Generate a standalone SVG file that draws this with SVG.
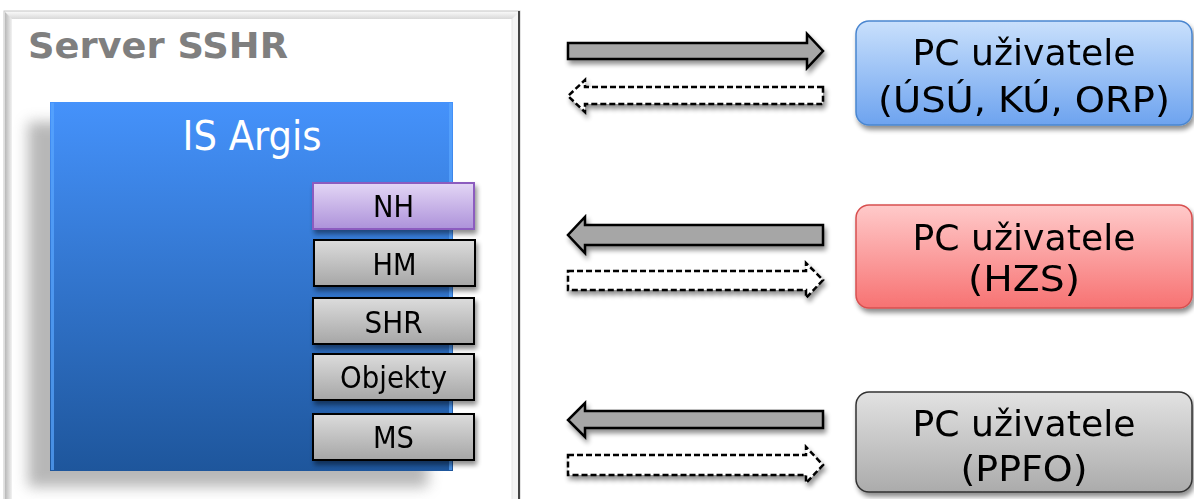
<svg xmlns="http://www.w3.org/2000/svg" width="1194" height="499" viewBox="0 0 1194 499">
<defs>
  <linearGradient id="gBlue" x1="0" y1="0" x2="0" y2="1">
    <stop offset="0" stop-color="#4592fb"/>
    <stop offset="1" stop-color="#1e569c"/>
  </linearGradient>
  <linearGradient id="gGray" x1="0" y1="0" x2="0" y2="1">
    <stop offset="0" stop-color="#dcdcdc"/>
    <stop offset="1" stop-color="#a6a6a6"/>
  </linearGradient>
  <linearGradient id="gPurple" x1="0" y1="0" x2="0" y2="1">
    <stop offset="0" stop-color="#e3d6f5"/>
    <stop offset="1" stop-color="#ad92da"/>
  </linearGradient>
  <linearGradient id="gPcBlue" x1="0" y1="0" x2="0" y2="1">
    <stop offset="0" stop-color="#c9e0fc"/>
    <stop offset="1" stop-color="#6da3ef"/>
  </linearGradient>
  <linearGradient id="gPcRed" x1="0" y1="0" x2="0" y2="1">
    <stop offset="0" stop-color="#ffcaca"/>
    <stop offset="1" stop-color="#f77272"/>
  </linearGradient>
  <linearGradient id="gPcGray" x1="0" y1="0" x2="0" y2="1">
    <stop offset="0" stop-color="#e2e2e2"/>
    <stop offset="1" stop-color="#ababab"/>
  </linearGradient>
  <linearGradient id="gFrameL" x1="0" y1="0" x2="1" y2="0">
    <stop offset="0" stop-color="#b8b8b8"/>
    <stop offset="1" stop-color="#f2f2f2"/>
  </linearGradient>
  <linearGradient id="gFrameT" x1="0" y1="0" x2="0" y2="1">
    <stop offset="0" stop-color="#f8f8f8"/>
    <stop offset="1" stop-color="#d8d8d8"/>
  </linearGradient>
  <filter id="fShadow" x="-20%" y="-20%" width="140%" height="160%">
    <feGaussianBlur in="SourceAlpha" stdDeviation="2.5"/>
    <feOffset dx="2" dy="4" result="b"/>
    <feComponentTransfer><feFuncA type="linear" slope="0.45"/></feComponentTransfer>
    <feMerge><feMergeNode/><feMergeNode in="SourceGraphic"/></feMerge>
  </filter>
  <filter id="fBig" x="-20%" y="-20%" width="140%" height="140%">
    <feGaussianBlur stdDeviation="7"/>
  </filter>
  <style>
    .lbl { font-family: "DejaVu Sans", Verdana, sans-serif; fill: #000; text-anchor: middle; }
    .mod { stroke: #000; stroke-width: 2; fill: url(#gGray); }
    .pc { stroke-width: 1.5; }
    .solid { fill: #a6a6a6; stroke: #000; stroke-width: 2.5; stroke-linejoin: miter; }
    .dash { fill: #fff; stroke: #000; stroke-width: 2.5; stroke-dasharray: 6 3; }
  </style>
</defs>
<rect width="1194" height="499" fill="#fff"/>

<g id="server">
  <rect x="4" y="11" width="516" height="500" fill="#f4f4f4" stroke="#c8c8c8" stroke-width="1"/>
  <rect x="5" y="12" width="7" height="490" fill="url(#gFrameL)"/>
  <polygon points="5,12 519,12 512,19 12,19" fill="url(#gFrameT)"/>
  <rect x="12" y="19" width="500" height="490" fill="#fff"/>
  <line x1="519" y1="11" x2="519" y2="499" stroke="#444" stroke-width="2"/>
  <line x1="512" y1="19" x2="512" y2="499" stroke="#e6e6e6" stroke-width="1"/>
  <text x="28" y="58" font-family="'DejaVu Sans', Verdana, sans-serif" font-weight="bold" font-size="36" fill="#7f7f7f" textLength="260" lengthAdjust="spacingAndGlyphs">Server SSHR</text>
</g>

<g id="is-argis">
  <rect x="28" y="122" width="400" height="365" fill="#9a9a9a" opacity="0.7" filter="url(#fBig)"/>
  <rect x="50" y="102" width="403" height="369" fill="url(#gBlue)"/>
  <rect x="51" y="103" width="3" height="367" fill="#5aa6ff" opacity="0.7"/>
  <rect x="449" y="103" width="3" height="367" fill="#5aa6ff" opacity="0.7"/>
  <text x="252" y="150" font-family="'DejaVu Sans', Tahoma, sans-serif" font-size="40" fill="#fff" text-anchor="middle" textLength="139" lengthAdjust="spacingAndGlyphs">IS Argis</text>
</g>

<g id="nh" filter="url(#fShadow)">
  <rect x="313" y="183" width="161" height="46" fill="url(#gPurple)" stroke="#8c5cbf" stroke-width="2"/>
  <text class="lbl" x="393.5" y="217" font-size="30" textLength="41" lengthAdjust="spacingAndGlyphs">NH</text>
</g>
<g id="hm" filter="url(#fShadow)">
  <rect class="mod" x="314" y="240" width="161" height="46"/>
  <text class="lbl" x="394.5" y="275" font-size="30" textLength="44" lengthAdjust="spacingAndGlyphs">HM</text>
</g>
<g id="shr" filter="url(#fShadow)">
  <rect class="mod" x="313" y="298" width="161" height="46"/>
  <text class="lbl" x="393.5" y="333" font-size="30" textLength="58" lengthAdjust="spacingAndGlyphs">SHR</text>
</g>
<g id="objekty" filter="url(#fShadow)">
  <rect class="mod" x="313" y="354" width="161" height="46"/>
  <text class="lbl" x="393.5" y="388" font-size="30" textLength="107" lengthAdjust="spacingAndGlyphs">Objekty</text>
</g>
<g id="ms" filter="url(#fShadow)">
  <rect class="mod" x="313" y="414" width="161" height="46"/>
  <text class="lbl" x="393.5" y="448" font-size="30" textLength="41" lengthAdjust="spacingAndGlyphs">MS</text>
</g>

<g id="pc-usu" filter="url(#fShadow)">
  <rect class="pc" x="856" y="21" width="336" height="104" rx="13" fill="url(#gPcBlue)" stroke="#4a86d0"/>
  <text class="lbl" x="1024" y="65" font-size="35" textLength="223" lengthAdjust="spacingAndGlyphs">PC uživatele</text>
  <text class="lbl" x="1024" y="112" font-size="35" textLength="292" lengthAdjust="spacingAndGlyphs">(ÚSÚ, KÚ, ORP)</text>
</g>
<g id="pc-hzs" filter="url(#fShadow)">
  <rect class="pc" x="856" y="205" width="336" height="103" rx="13" fill="url(#gPcRed)" stroke="#d85050"/>
  <text class="lbl" x="1024" y="250" font-size="35" textLength="223" lengthAdjust="spacingAndGlyphs">PC uživatele</text>
  <text class="lbl" x="1024" y="291" font-size="35" textLength="112" lengthAdjust="spacingAndGlyphs">(HZS)</text>
</g>
<g id="pc-ppfo" filter="url(#fShadow)">
  <rect class="pc" x="856" y="392" width="336" height="100" rx="13" fill="url(#gPcGray)" stroke="#333"/>
  <text class="lbl" x="1024" y="436" font-size="35" textLength="223" lengthAdjust="spacingAndGlyphs">PC uživatele</text>
  <text class="lbl" x="1024" y="481" font-size="35" textLength="127" lengthAdjust="spacingAndGlyphs">(PPFO)</text>
</g>

<g id="connectors" filter="url(#fShadow)">
  <polygon class="solid" points="568,43 807,43 807,34 823,51 807,68 807,59 568,59"/>
  <polygon class="dash" points="823,87 585,87 585,80 568,96 585,112 585,104 823,104"/>
  <polygon class="solid" points="823,225 585,225 585,217 568,235 585,253 585,245 823,245"/>
  <polygon class="dash" points="568,271 806,271 806,263 823,280 806,298 806,290 568,290"/>
  <polygon class="solid" points="823,411 585,411 585,403 568,420 585,437 585,428 823,428"/>
  <polygon class="dash" points="568,455 806,455 806,447 823,465 806,483 806,475 568,475"/>
</g>
</svg>
